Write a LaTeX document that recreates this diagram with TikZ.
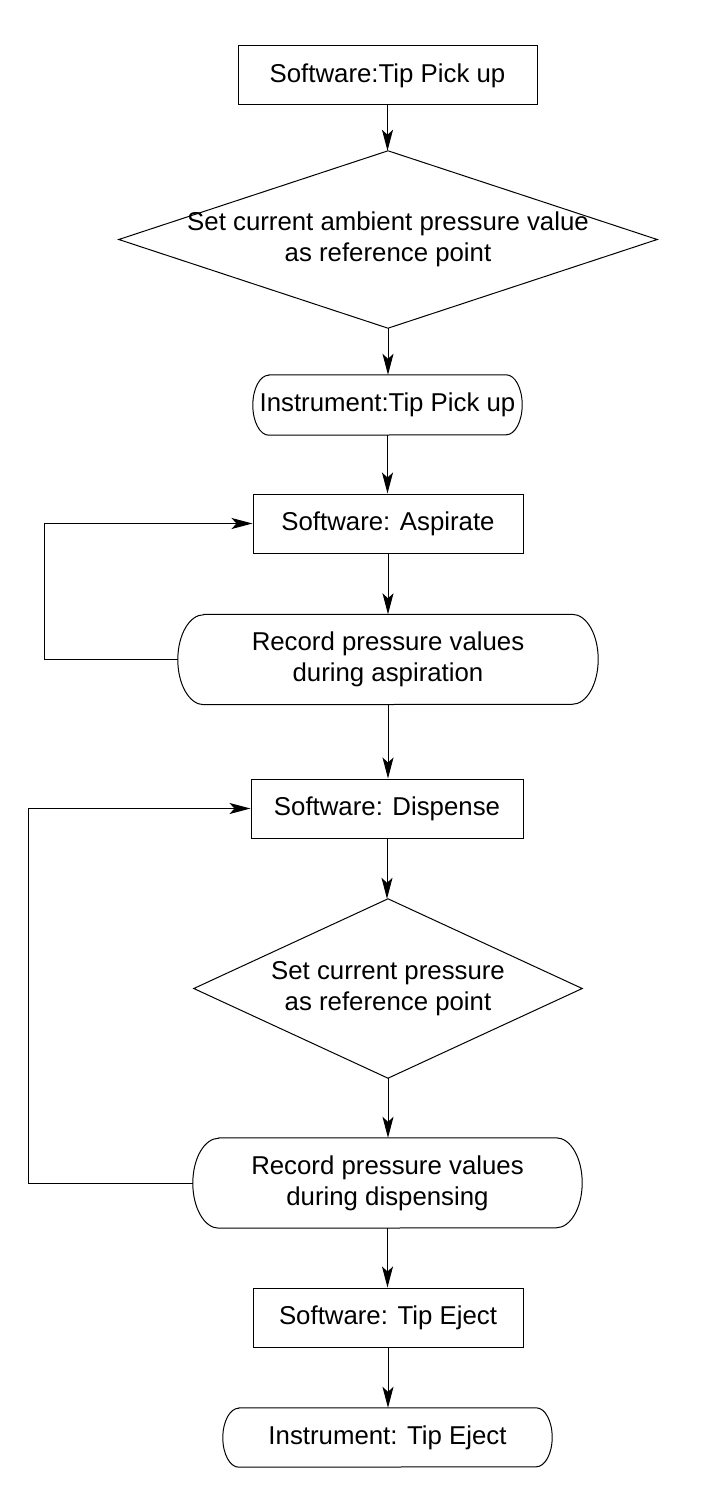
\documentclass[tikz,border=0pt]{standalone}
\usepackage{fontspec}
\setmainfont{Liberation Sans}
\usetikzlibrary{arrows.meta,calc}
\begin{document}
\begin{tikzpicture}[x=1pt,y=-1pt,
  lw/.style={line width=1pt},
  base/.style={font=\fontsize{25.8}{31}\selectfont, align=center, inner sep=0pt},
  proc/.style={base, draw, lw, minimum height=59pt},
  arr/.style={lw, -{Stealth[length=21pt,width=11pt,inset=5pt]}}
]
\useasboundingbox (0,0) rectangle (716,1506);
\newcommand\termshape[3]{%
  \draw[lw] ($(#1.north west)+(#2,0)$) -- ($(#1.north east)+(-#2,0)$)
    arc[start angle=90,end angle=-90,x radius=#2pt,y radius=#3pt]
    -- ($(#1.south west)+(#2,0)$)
    arc[start angle=270,end angle=90,x radius=#2pt,y radius=#3pt] -- cycle;}
\newcommand\diamondshape[1]{%
  \draw[lw] (#1.north) -- (#1.east) -- (#1.south) -- (#1.west) -- cycle;}

\node[proc, minimum width=299pt] (s1) at (387.5,75.5) {Software:Tip Pick up};
\node[base, minimum width=538pt, minimum height=177pt] (d1) at (388,239.5) {Set current ambient pressure value\\as reference point};
\diamondshape{d1}
\node[base, minimum width=269pt, minimum height=60pt] (t1) at (387.5,405) {Instrument:Tip Pick up};
\termshape{t1}{16}{30}
\node[proc, minimum width=270pt] (s2) at (388,523.5) {Software: Aspirate};
\node[base, minimum width=420pt, minimum height=90pt] (r1) at (388,659.5) {Record pressure values\\during aspiration};
\termshape{r1}{26}{45}
\node[proc, minimum width=272pt] (s3) at (387,808.5) {Software: Dispense};
\node[base, minimum width=388pt, minimum height=179pt] (d2) at (388,988.5) {Set current pressure\\as reference point};
\diamondshape{d2}
\node[base, minimum width=389pt, minimum height=90pt] (r2) at (387.5,1183) {Record pressure values\\during dispensing};
\termshape{r2}{26}{45}
\node[proc, minimum width=270pt] (s4) at (388,1317.5) {Software: Tip Eject};
\node[base, minimum width=329pt, minimum height=59pt] (t2) at (387.5,1437.5) {Instrument: Tip Eject};
\termshape{t2}{16}{29.5}

\draw[arr] (s1.south) -- (s1.south |- d1.north);
\draw[arr] (d1.south) -- (d1.south |- t1.north);
\draw[arr] (t1.south) -- (t1.south |- s2.north);
\draw[arr] (s2.south) -- (s2.south |- r1.north);
\draw[arr] (r1.south) -- (r1.south |- s3.north);
\draw[arr] (s3.south) -- (s3.south |- d2.north);
\draw[arr] (d2.south) -- (d2.south |- r2.north);
\draw[arr] (r2.south) -- (r2.south |- s4.north);
\draw[arr] (s4.south) -- (s4.south |- t2.north);

\coordinate (c1) at (44,659.5);
\coordinate (c2) at (28,1183);
\draw[arr] (r1.west) -- (c1) |- (s2.west);
\draw[arr] (r2.west) -- (c2) |- (s3.west);
\end{tikzpicture}
\end{document}
